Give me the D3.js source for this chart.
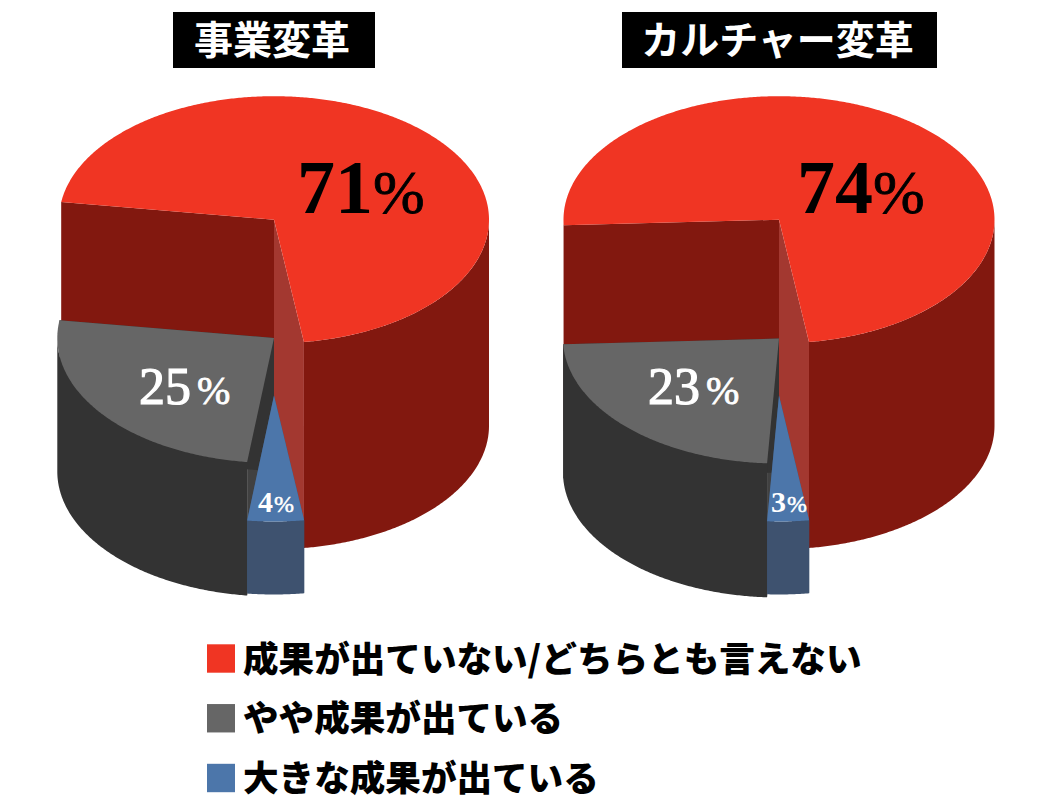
<!DOCTYPE html>
<html><head><meta charset="utf-8">
<script src="https://cdn.jsdelivr.net/npm/d3@7/dist/d3.min.js"></script>
<style>html,body{margin:0;padding:0;background:#fff}svg{display:block}</style>
</head><body><svg id="c" width="1052" height="806"></svg>
<script>
const categories = ["成果が出ていない/どちらとも言えない","やや成果が出ている","大きな成果が出ている"];
const chartTitles = ["事業変革","カルチャー変革"];
const seriesA = [70.5,25.3,4.2];
const seriesB = [73.5,23.4,3.1];
const colors = {
  top:["#f03523","#666666","#4c76aa"],
  wall:["#82180f","#333333","#3e526f"],
  cut:["#a33830","#414141","#3e526f"]
};
const sansFont = "'Noto Sans CJK JP',sans-serif";
const numFont = "'Liberation Serif',serif";
const fmt = d3.format(".0f");

const svg = d3.select("#c");

const charts = [
 {title:chartTitles[0],values:seriesA,cx:274,start:172,box:[173,12,202,56],
  layers:[{cy:219.7,depth:206,rx:215,ry:123.5},{cy:338,depth:133.5,rx:216.7,ry:125},{cy:395.5,depth:73,rx:216.7,ry:126}],
  labels:[{x:297,y:213,n:76,p:62,w:700,dx:0},{x:139,y:404,n:52,p:40,w:400,dx:6},{x:258,y:512,n:30,p:24,w:700,dx:1}]},
 {title:chartTitles[1],values:seriesB,cx:779,start:172,box:[622,12,315,56],
  layers:[{cy:219.7,depth:206,rx:215.5,ry:123.5},{cy:338.5,depth:134,rx:216,ry:125},{cy:395.5,depth:73,rx:216.7,ry:126}],
  labels:[{x:797,y:213,n:76,p:62,w:700,dx:0},{x:648,y:404,n:52,p:40,w:400,dx:6},{x:771,y:512,n:30,p:24,w:700,dx:1}]}
];

function drawChart(ch){
  const g = svg.append("g");
  const order = [2,1,0];  // clockwise from the start angle: blue, gray, red
  const pie = d3.pie().sort(null).value(i=>ch.values[i])
     .startAngle(ch.start*Math.PI/180).endAngle((ch.start+360)*Math.PI/180);
  const byIdx = {}; pie(order).forEach(a=>byIdx[a.data]=a);
  const line = d3.line();

  const makePt = (L)=>{
    const sx = d3.scaleLinear().domain([-1,1]).range([ch.cx-L.rx,ch.cx+L.rx]);
    const sy = d3.scaleLinear().domain([-1,1]).range([L.cy-L.ry,L.cy+L.ry]);
    return (t,off=0)=>[sx(Math.sin(t)),sy(-Math.cos(t))+off];
  };
  const arcPts = (pt,a0,a1,off=0)=>{
    const n = Math.max(2,Math.ceil(Math.abs(a1-a0)/(Math.PI/360)));
    return d3.range(n+1).map(i=>pt(a0+(a1-a0)*i/n,off));
  };
  const poly = (pts,fill)=>g.append("path").attr("d",line(pts)+"Z").attr("fill",fill);

  [0,1,2].forEach(i=>{
    const L = ch.layers[i], a = byIdx[i], pt = makePt(L);
    const apex = [ch.cx,L.cy];
    const a0=a.startAngle, a1=a.endAngle;
    const face = (t,fill)=>{const p=pt(t);
      poly([apex,p,[p[0],p[1]+L.depth],[apex[0],apex[1]+L.depth]],fill);};
    // the red slice opens to the left (dark) and right (lit); the others face right (lit)
    face(a0,i===0?colors.wall[i]:colors.cut[i]);
    face(a1,i===0?colors.cut[i]:colors.wall[i]);
    // outer wall: only the front half of the ellipse is visible
    const front0=Math.PI/2, front1=Math.PI*1.5;
    const clip=(s,e)=>{const lo=Math.max(s,front0),hi=Math.min(e,front1);return lo<hi?[lo,hi]:null;};
    [clip(a0,a1),clip(a0-2*Math.PI,a1-2*Math.PI)].filter(Boolean).forEach(([lo,hi])=>{
      poly(arcPts(pt,lo,hi).concat(arcPts(pt,hi,lo,L.depth)),colors.wall[i]);
    });
    poly([apex].concat(arcPts(pt,a0,a1)),colors.top[i]);
  });

  [0,1,2].forEach(i=>{
    const lb = ch.labels[i];
    const col = i===0?"#000":"#fff";
    const t = g.append("text").attr("x",lb.x).attr("y",lb.y)
      .attr("font-family",numFont).attr("fill",col);
    const n = t.append("tspan").attr("font-size",lb.n).attr("font-weight",lb.w).text(fmt(ch.values[i]));
    if(lb.w===400) n.attr("stroke",col).attr("stroke-width",1.2);
    t.append("tspan").attr("font-size",lb.p).attr("font-weight",400).attr("dx",lb.dx)
      .attr("stroke",col).attr("stroke-width",i===2?0.5:0.8).text("%");
  });

  const [bx,by,bw,bh]=ch.box;
  svg.append("rect").attr("x",bx).attr("y",by).attr("width",bw).attr("height",bh).attr("fill","#000");
  svg.append("text").attr("x",bx+bw/2-2).attr("y",by+bh/2+14).attr("text-anchor","middle")
    .attr("font-family",sansFont).attr("font-weight",700).attr("font-size",39).attr("fill","#fff").text(ch.title);
}
charts.forEach(drawChart);

const legendY = d3.scalePoint().domain(categories).range([658.5,778]);
categories.forEach((c,i)=>{
  svg.append("rect").attr("x",207).attr("y",legendY(c)-14.2).attr("width",28).attr("height",28.4).attr("fill",colors.top[i]);
  svg.append("text").attr("x",243).attr("y",legendY(c)+13).attr("font-family",sansFont)
    .attr("font-weight",900).attr("font-size",35.6).attr("fill","#000").text(c);
});
</script></body></html>
